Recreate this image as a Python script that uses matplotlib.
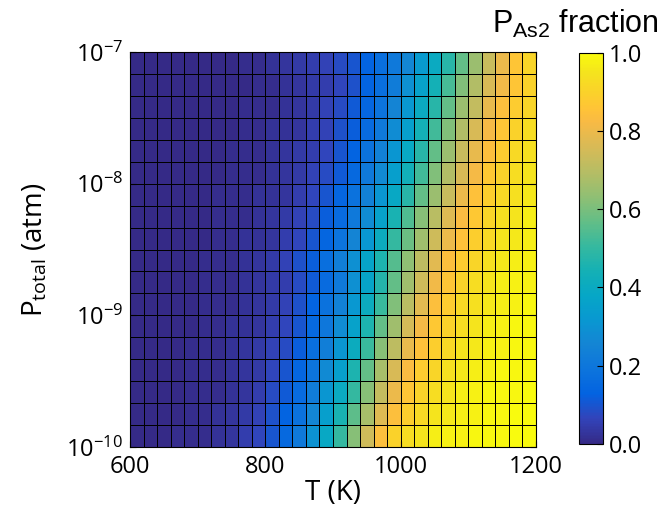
import numpy as np
import matplotlib
matplotlib.use('Agg')
import matplotlib.pyplot as plt
from matplotlib.colors import LinearSegmentedColormap
from matplotlib.ticker import LogFormatterMathtext, FixedLocator, NullLocator

# temperature cell edges (K) and total pressure cell edges (atm)
T_edges = np.arange(600, 1201, 20)
P_edges = np.logspace(-10, -7, 19)

# P_As2 fraction, one row per pressure band (bottom = 1e-10 atm)
frac = [
    [0.00, 0.00, 0.00, 0.01, 0.01, 0.01, 0.02, 0.03, 0.05, 0.07, 0.10, 0.15, 0.21, 0.30, 0.39, 0.50, 0.62, 0.74, 0.84, 0.90, 0.93, 0.95, 0.97, 0.98, 0.98, 0.99, 0.99, 0.99, 1.00, 1.00],
    [0.00, 0.00, 0.00, 0.00, 0.01, 0.01, 0.02, 0.03, 0.04, 0.06, 0.09, 0.13, 0.18, 0.26, 0.35, 0.45, 0.56, 0.67, 0.77, 0.84, 0.89, 0.92, 0.95, 0.96, 0.97, 0.98, 0.99, 0.99, 1.00, 1.00],
    [0.00, 0.00, 0.00, 0.00, 0.01, 0.01, 0.01, 0.02, 0.03, 0.05, 0.08, 0.11, 0.16, 0.22, 0.31, 0.40, 0.50, 0.62, 0.72, 0.80, 0.86, 0.90, 0.93, 0.95, 0.97, 0.98, 0.99, 0.99, 0.99, 1.00],
    [0.00, 0.00, 0.00, 0.00, 0.01, 0.01, 0.01, 0.02, 0.03, 0.04, 0.07, 0.10, 0.14, 0.19, 0.27, 0.35, 0.46, 0.57, 0.67, 0.76, 0.83, 0.88, 0.91, 0.94, 0.96, 0.97, 0.98, 0.99, 0.99, 0.99],
    [0.00, 0.00, 0.00, 0.00, 0.01, 0.01, 0.01, 0.02, 0.03, 0.04, 0.06, 0.08, 0.12, 0.17, 0.23, 0.31, 0.41, 0.51, 0.62, 0.71, 0.79, 0.85, 0.89, 0.92, 0.95, 0.96, 0.98, 0.98, 0.99, 0.99],
    [0.00, 0.00, 0.00, 0.00, 0.00, 0.01, 0.01, 0.02, 0.02, 0.03, 0.05, 0.07, 0.10, 0.15, 0.20, 0.28, 0.36, 0.46, 0.57, 0.66, 0.75, 0.82, 0.87, 0.90, 0.93, 0.95, 0.97, 0.98, 0.99, 0.99],
    [0.00, 0.00, 0.00, 0.00, 0.00, 0.01, 0.01, 0.01, 0.02, 0.03, 0.04, 0.06, 0.09, 0.13, 0.18, 0.24, 0.32, 0.41, 0.51, 0.61, 0.70, 0.78, 0.84, 0.88, 0.92, 0.94, 0.96, 0.97, 0.98, 0.99],
    [0.00, 0.00, 0.00, 0.00, 0.00, 0.01, 0.01, 0.01, 0.02, 0.03, 0.04, 0.05, 0.08, 0.11, 0.16, 0.21, 0.29, 0.37, 0.47, 0.57, 0.66, 0.74, 0.81, 0.86, 0.90, 0.93, 0.95, 0.97, 0.98, 0.98],
    [0.00, 0.00, 0.00, 0.00, 0.00, 0.01, 0.01, 0.01, 0.02, 0.03, 0.04, 0.06, 0.09, 0.12, 0.17, 0.23, 0.29, 0.37, 0.46, 0.55, 0.63, 0.71, 0.78, 0.84, 0.88, 0.91, 0.94, 0.96, 0.97, 0.98],
    [0.00, 0.00, 0.00, 0.00, 0.00, 0.00, 0.01, 0.01, 0.02, 0.02, 0.03, 0.05, 0.07, 0.10, 0.14, 0.19, 0.25, 0.32, 0.41, 0.50, 0.58, 0.66, 0.74, 0.80, 0.85, 0.89, 0.92, 0.95, 0.96, 0.97],
    [0.00, 0.00, 0.00, 0.00, 0.00, 0.00, 0.01, 0.01, 0.01, 0.02, 0.03, 0.04, 0.06, 0.08, 0.12, 0.16, 0.21, 0.28, 0.36, 0.45, 0.54, 0.62, 0.70, 0.77, 0.83, 0.87, 0.91, 0.94, 0.95, 0.97],
    [0.00, 0.00, 0.00, 0.00, 0.00, 0.00, 0.01, 0.01, 0.01, 0.02, 0.02, 0.03, 0.05, 0.07, 0.10, 0.14, 0.18, 0.24, 0.31, 0.39, 0.48, 0.57, 0.65, 0.73, 0.80, 0.85, 0.89, 0.92, 0.94, 0.96],
    [0.00, 0.00, 0.00, 0.00, 0.00, 0.00, 0.00, 0.01, 0.01, 0.01, 0.02, 0.03, 0.04, 0.06, 0.08, 0.11, 0.15, 0.21, 0.27, 0.35, 0.43, 0.52, 0.61, 0.69, 0.76, 0.82, 0.87, 0.90, 0.93, 0.95],
    [0.00, 0.00, 0.00, 0.00, 0.00, 0.00, 0.00, 0.01, 0.01, 0.01, 0.02, 0.03, 0.04, 0.05, 0.07, 0.10, 0.13, 0.18, 0.24, 0.31, 0.39, 0.48, 0.57, 0.65, 0.73, 0.79, 0.84, 0.88, 0.92, 0.94],
    [0.00, 0.00, 0.00, 0.00, 0.00, 0.00, 0.00, 0.00, 0.01, 0.01, 0.02, 0.02, 0.03, 0.05, 0.06, 0.09, 0.12, 0.16, 0.21, 0.28, 0.35, 0.44, 0.52, 0.61, 0.69, 0.76, 0.82, 0.86, 0.90, 0.93],
    [0.00, 0.00, 0.00, 0.00, 0.00, 0.00, 0.00, 0.00, 0.01, 0.01, 0.01, 0.02, 0.03, 0.04, 0.06, 0.08, 0.11, 0.14, 0.19, 0.25, 0.32, 0.40, 0.48, 0.57, 0.65, 0.72, 0.79, 0.84, 0.88, 0.91],
    [0.00, 0.00, 0.00, 0.00, 0.00, 0.00, 0.00, 0.00, 0.00, 0.01, 0.01, 0.02, 0.03, 0.04, 0.05, 0.07, 0.09, 0.13, 0.17, 0.22, 0.29, 0.36, 0.44, 0.53, 0.61, 0.69, 0.76, 0.81, 0.86, 0.90],
    [0.00, 0.00, 0.00, 0.00, 0.00, 0.00, 0.00, 0.00, 0.01, 0.01, 0.02, 0.03, 0.04, 0.05, 0.06, 0.08, 0.10, 0.13, 0.17, 0.21, 0.26, 0.33, 0.40, 0.48, 0.57, 0.65, 0.73, 0.80, 0.86, 0.91],
]

x_ticks = [600, 800, 1000, 1200]
y_ticks = [1e-10, 1e-9, 1e-8, 1e-7]
cbar_ticks = [0.0, 0.2, 0.4, 0.6, 0.8, 1.0]

# parula-like colormap (MATLAB default)
parula_pos = [0, 4, 8, 12, 16, 20, 24, 28, 32, 36, 40, 44, 48, 52, 54, 56, 60, 63]
parula_rgb = [
    (0.2081, 0.1663, 0.5292), (0.1959, 0.2645, 0.7279), (0.0117, 0.3875, 0.8820),
    (0.0498, 0.4586, 0.8641), (0.0793, 0.5200, 0.8312), (0.0343, 0.5966, 0.8199),
    (0.0228, 0.6535, 0.7768), (0.0843, 0.6928, 0.7062), (0.2178, 0.7250, 0.6193),
    (0.3953, 0.7459, 0.5244), (0.5709, 0.7485, 0.4494), (0.7184, 0.7411, 0.3905),
    (0.8507, 0.7299, 0.3360), (0.9739, 0.7314, 0.2666), (0.9990, 0.7653, 0.2164),
    (0.9880, 0.8066, 0.1794), (0.9589, 0.8949, 0.1132), (0.9763, 0.9831, 0.0538),
]
parula = LinearSegmentedColormap.from_list(
    'parula', [(p / 63, c) for p, c in zip(parula_pos, parula_rgb)])

plt.rcParams['font.family'] = ['Open Sans', 'DejaVu Sans']
plt.rcParams['mathtext.fontset'] = 'custom'
plt.rcParams['mathtext.rm'] = 'Open Sans'
plt.rcParams['mathtext.it'] = 'Open Sans:italic'
plt.rcParams['mathtext.sf'] = 'Liberation Sans'

fig = plt.figure(figsize=(6.72, 5.18), dpi=100)
ax = fig.add_axes([0.1935, 0.137, 0.604, 0.7625])
cax = fig.add_axes([0.8616, 0.143, 0.0357, 0.755])

mesh = ax.pcolormesh(T_edges, P_edges, np.array(frac), cmap=parula, vmin=0, vmax=1,
                     edgecolors='black', linewidth=0.7)
ax.set_yscale('log')
ax.set_xlim(600, 1200)
ax.set_ylim(1e-10, 1e-7)
ax.xaxis.set_major_locator(FixedLocator(x_ticks))
ax.yaxis.set_major_locator(FixedLocator(y_ticks))
ax.yaxis.set_minor_locator(NullLocator())
ax.yaxis.set_major_formatter(LogFormatterMathtext())
ax.tick_params(direction='in', labelsize=17, length=4, top=True, right=True)
ax.tick_params(axis='x', pad=6)
ax.tick_params(axis='y', pad=5)
ax.set_xlabel('T (K)', fontsize=20, labelpad=0)
ax.set_ylabel(r'P$_{\mathrm{total}}$ (atm)', fontsize=20, labelpad=12)
for s in ax.spines.values():
    s.set_linewidth(0.8)

cb = fig.colorbar(mesh, cax=cax, ticks=cbar_ticks)
cb.ax.set_yticklabels([f'{t:.1f}' for t in cbar_ticks])
cb.ax.tick_params(direction='in', labelsize=17, length=4, pad=4)
cb.outline.set_linewidth(0.8)

fig.text(0.857, 0.936, r'$\mathsf{P_{As2}}$ fraction', fontsize=22,
         family='Liberation Sans', ha='center', va='baseline')

fig.savefig('out.png', dpi=100)
